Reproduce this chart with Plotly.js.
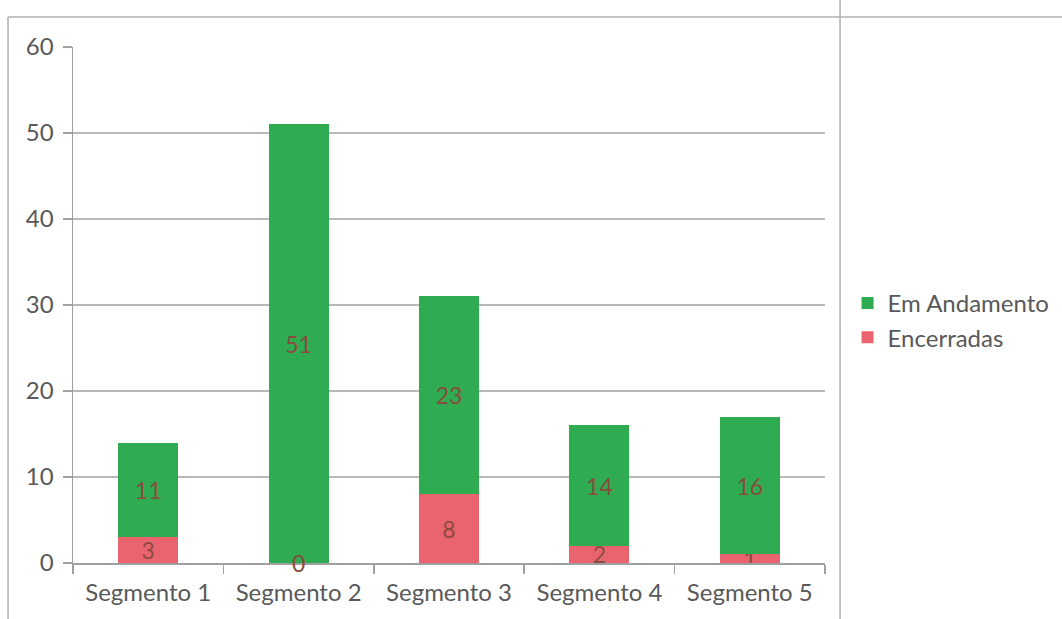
<!DOCTYPE html>
<html>
<head>
<meta charset="utf-8">
<script src="https://cdn.plot.ly/plotly-3.0.1.min.js"></script>
<style>html,body{margin:0;padding:0;background:#fff;}#chart{width:1062px;height:619px;}</style>
</head>
<body>
<div id="chart"></div>
<script>
const categories = ["Segmento 1", "Segmento 2", "Segmento 3", "Segmento 4", "Segmento 5"];
const encerradas = [3, 0, 8, 2, 1];
const emAndamento = [11, 51, 23, 14, 16];
const yTicks = [0, 10, 20, 30, 40, 50, 60];

const FONT = "Lato, 'Open Sans', sans-serif";
const labelFont = {family: FONT, size: 23, color: "#8a4b3e"};

const traces = [
  {
    type: "bar", name: "Encerradas", x: categories, y: encerradas,
    marker: {color: "#ea6470"},
    text: encerradas.map(String), textposition: "inside", insidetextanchor: "middle",
    textangle: 0, constraintext: "none", textfont: labelFont, hoverinfo: "x+y+name"
  },
  {
    type: "bar", name: "Em Andamento", x: categories, y: emAndamento,
    marker: {color: "#2fac52"},
    text: emAndamento.map(String), textposition: "inside", insidetextanchor: "middle",
    textangle: 0, constraintext: "none", textfont: labelFont, hoverinfo: "x+y+name"
  }
];

// zero-height segments cannot hold inside text, so label them with annotations built from the data
const zeroLabels = [];
encerradas.forEach((v, i) => {
  if (v === 0) zeroLabels.push({
    x: categories[i], y: v, xref: "x", yref: "y", text: String(v), showarrow: false,
    font: labelFont, yanchor: "middle"
  });
});

const frame = "#b0b0b0";
const layout = {
  width: 1062, height: 619,
  margin: {l: 73, r: 237, t: 47, b: 56, autoexpand: false},
  paper_bgcolor: "#ffffff", plot_bgcolor: "#ffffff",
  barmode: "stack", bargap: 0.6,
  font: {family: FONT, size: 23, color: "#595959"},
  xaxis: {
    type: "category", showline: true, linecolor: "#a0a0a0", linewidth: 1.5,
    ticks: "outside", tickson: "boundaries", ticklen: 9, tickcolor: "#a0a0a0", tickwidth: 1.5,
    ticklabelstandoff: 8,
    showgrid: false, tickfont: {family: FONT, size: 24, color: "#595959"}
  },
  yaxis: {
    range: [0, 60], tickvals: yTicks, showline: true, linecolor: "#a0a0a0", linewidth: 1.5,
    ticks: "outside", ticklen: 9, tickcolor: "#a0a0a0", tickwidth: 1.5,
    showgrid: true, gridcolor: "#b8b8b8", gridwidth: 1.2, zeroline: false,
    ticklabelstandoff: 4,
    tickfont: {family: FONT, size: 24, color: "#595959"}
  },
  legend: {
    x: 1.03, y: 0.47, xanchor: "left", yanchor: "middle",
    font: {family: FONT, size: 24, color: "#595959"},
    itemwidth: 30, tracegroupgap: 0, bgcolor: "rgba(0,0,0,0)"
  },
  showlegend: true,
  annotations: zeroLabels,
  shapes: [
    {type: "line", xref: "paper", yref: "paper", x0: -0.0864, x1: -0.0864, y0: 1.058, y1: -0.12, line: {color: frame, width: 1.5}},
    {type: "line", xref: "paper", yref: "paper", x0: -0.0864, x1: 1.315, y0: 1.058, y1: 1.058, line: {color: frame, width: 1.5}},
    {type: "line", xref: "paper", yref: "paper", x0: 1.02, x1: 1.02, y0: 1.095, y1: -0.12, line: {color: frame, width: 1.5}}
  ]
};

Plotly.newPlot("chart", traces, layout, {displayModeBar: false, staticPlot: true});
</script>
</body>
</html>
